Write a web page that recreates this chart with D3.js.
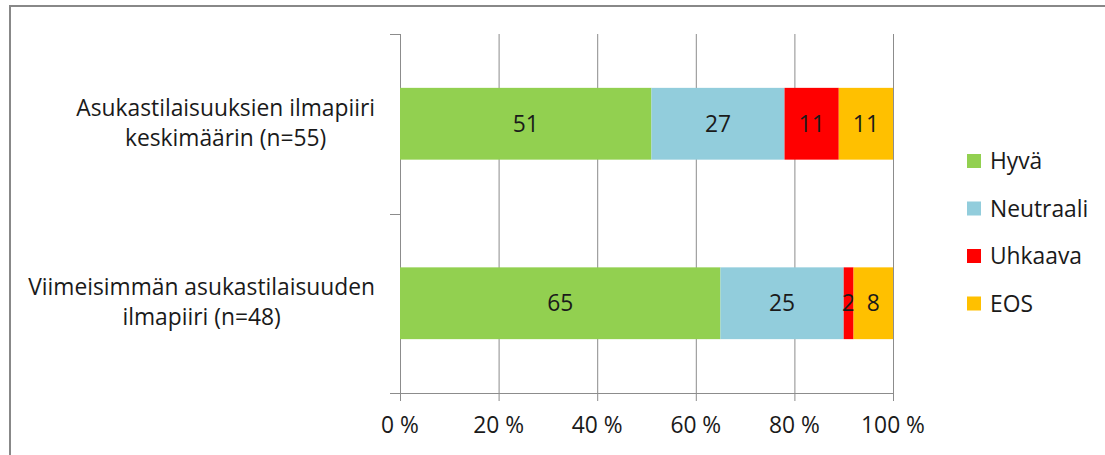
<!DOCTYPE html>
<meta charset="utf-8">
<style>
    body { margin: 0; background: #fff; }
    text { font-family: "Open Sans", Lato, sans-serif; fill: #1a1a1a; }
    .grid line { stroke: #8c8c8c; stroke-width: 1px; }
</style>
<body>
<script src="https://cdn.jsdelivr.net/npm/d3@7"></script>
<script>
    // data
    var categories = ["Asukastilaisuuksien ilmapiiri keskimäärin (n=55)", "Viimeisimmän asukastilaisuuden ilmapiiri (n=48)"]
    var catLines = [["Asukastilaisuuksien ilmapiiri", "keskimäärin (n=55)"], ["Viimeisimmän asukastilaisuuden", "ilmapiiri (n=48)"]]
    var seriesNames = ["Hyvä", "Neutraali", "Uhkaava", "EOS"]
    var hyva = [51, 65]
    var neutraali = [27, 25]
    var uhkaava = [11, 2]
    var eos = [11, 8]
    var colors = ["#92d050", "#92cddc", "#ff0000", "#ffc000"]
    var tickValues = [0, 20, 40, 60, 80, 100]

    var width = 1105, height = 455
    var fs = "22.8px"

    var svg = d3.select("body").append("svg")
        .attr("width", width)
        .attr("height", height)

    // frame
    svg.append("rect")
        .attr("x", 10).attr("y", 6)
        .attr("width", 1200).attr("height", 600)
        .attr("fill", "none")
        .attr("stroke", "#888")
        .attr("stroke-width", 2)

    var x = d3.scaleLinear().domain([0, 100]).range([400, 893])
    var y = d3.scaleBand().domain(categories).range([34, 393]).paddingInner(0.6).paddingOuter(0.3)

    // gridlines
    svg.append("g").attr("class", "grid")
        .selectAll("line").data(tickValues)
        .enter().append("line")
            .attr("x1", d => x(d) + 0.5).attr("x2", d => x(d) + 0.5)
            .attr("y1", 34).attr("y2", 401)

    // bottom axis line + left ticks
    var g = svg.append("g").attr("class", "grid")
    g.append("line").attr("x1", 390).attr("x2", x(100) + 0.5).attr("y1", 393.5).attr("y2", 393.5)
    var catEdges = [34, 213.5, 393]
    g.selectAll(".ct").data(catEdges).enter().append("line")
        .attr("x1", 390).attr("x2", 400)
        .attr("y1", d => Math.round(d) + 0.5).attr("y2", d => Math.round(d) + 0.5)

    // stacked bars
    var table = categories.map((c, i) => ({cat: c, "Hyvä": hyva[i], "Neutraali": neutraali[i], "Uhkaava": uhkaava[i], "EOS": eos[i]}))
    var stack = d3.stack().keys(seriesNames)(table)

    var layers = svg.selectAll(".layer").data(stack)
        .enter().append("g")
            .attr("fill", (d, i) => colors[i])

    layers.selectAll("rect").data(d => d)
        .enter().append("rect")
            .attr("x", d => x(d[0]))
            .attr("y", d => y(d.data.cat))
            .attr("width", d => x(d[1]) - x(d[0]))
            .attr("height", y.bandwidth())

    layers.selectAll("text").data(d => d)
        .enter().append("text")
            .attr("x", d => (x(d[0]) + x(d[1])) / 2)
            .attr("y", d => y(d.data.cat) + y.bandwidth() / 2 + 8)
            .attr("text-anchor", "middle")
            .attr("font-size", fs)
            .text(d => d[1] - d[0])

    // x tick labels
    svg.selectAll(".xl").data(tickValues)
        .enter().append("text")
            .attr("x", d => x(d))
            .attr("y", 433)
            .attr("text-anchor", "middle")
            .attr("font-size", fs)
            .text(d => d + " %")

    // category labels: block right-aligned near the axis, lines centered in it
    categories.forEach(function(c, i) {
        var cy = y(c) + y.bandwidth() / 2
        var t = svg.append("text")
            .attr("text-anchor", "middle")
            .attr("font-size", fs)
        var spans = catLines[i].map(function(line, j) {
            return t.append("tspan")
                .attr("y", cy - 8 + j * 30)
                .text(line)
        })
        var maxW = d3.max(spans, s => s.node().getComputedTextLength())
        spans.forEach(s => s.attr("x", 375 - maxW / 2))
    })

    // legend
    var legend = svg.selectAll(".lg").data(seriesNames)
        .enter().append("g")
            .attr("transform", (d, i) => `translate(967, ${154 + i * 47.5})`)
    legend.append("rect")
        .attr("width", 14).attr("height", 14)
        .attr("fill", (d, i) => colors[i])
    legend.append("text")
        .attr("x", 23).attr("y", 15)
        .attr("font-size", fs)
        .text(d => d)
</script>
</body>
